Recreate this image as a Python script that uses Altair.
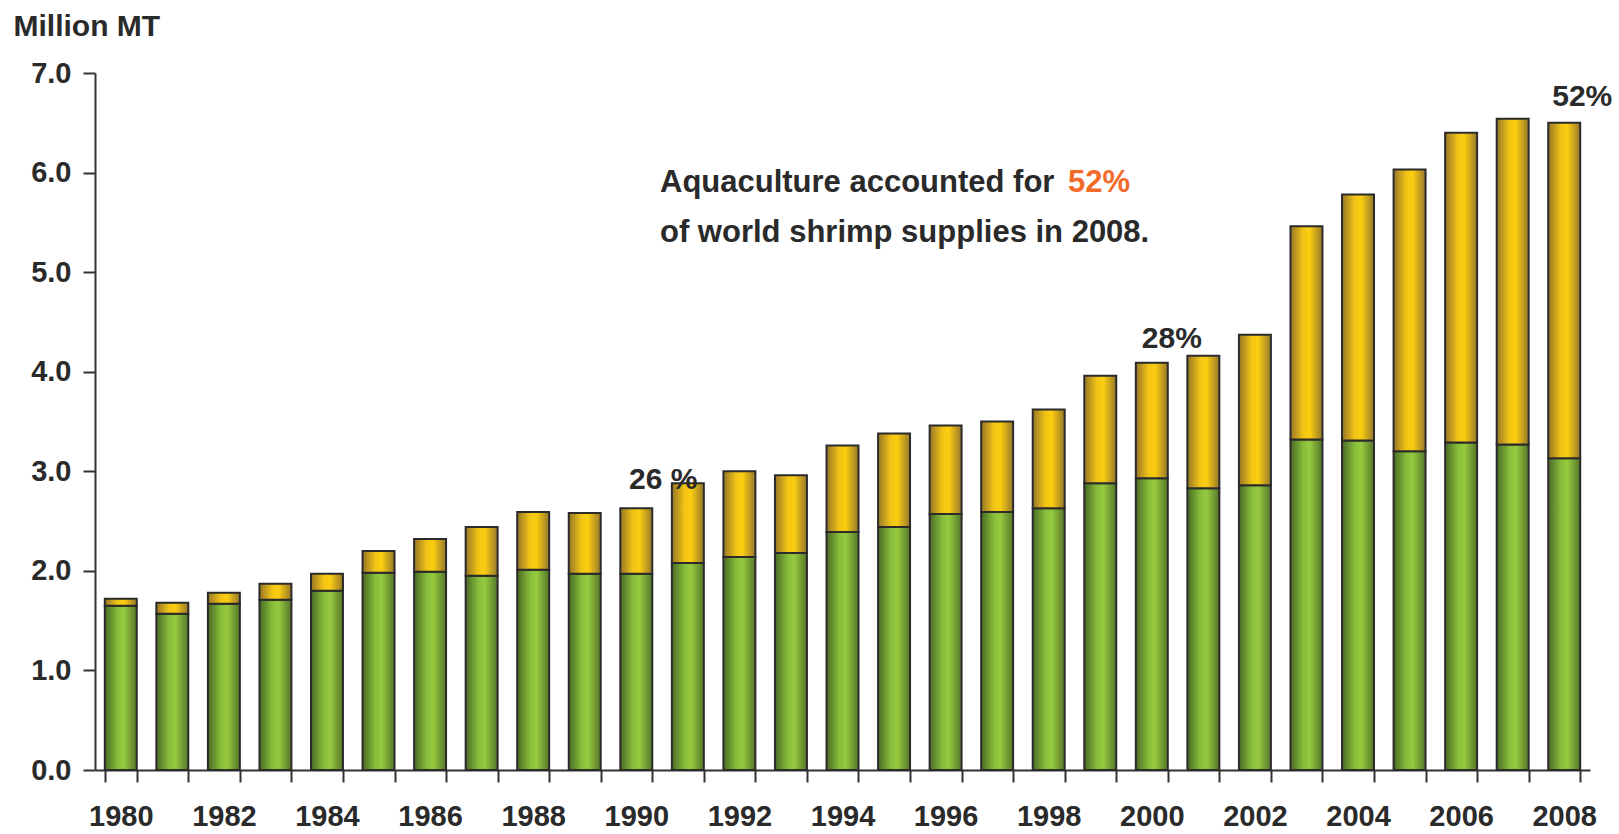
import altair as alt
import pandas as pd

years = list(range(1980, 2009))
# total world shrimp supply (million MT) - top of each bar
total = [1.72, 1.68, 1.78, 1.87, 1.97, 2.20, 2.32, 2.44, 2.59, 2.58,
         2.63, 2.88, 3.00, 2.96, 3.26, 3.38, 3.46, 3.50, 3.62, 3.96,
         4.09, 4.16, 4.37, 5.46, 5.78, 6.03, 6.40, 6.54, 6.50]
# wild capture (green part)
capture = [1.65, 1.57, 1.67, 1.71, 1.80, 1.98, 1.99, 1.95, 2.01, 1.97,
           1.97, 2.08, 2.14, 2.18, 2.39, 2.44, 2.57, 2.59, 2.63, 2.88,
           2.93, 2.83, 2.86, 3.32, 3.31, 3.20, 3.29, 3.27, 3.13]

pct_years = [1990, 2000, 2008]
pct_labels = ["26 %", "28%", "52%"]
pct_dx = [27, 20, 18]
pct_dy = [-19, -15, -17]

note_line1 = "Aquaculture accounted for "
note_pct = "52%"
note_line2 = "of world shrimp supplies in 2008."

df = pd.DataFrame({"year": years, "total": total, "capture": capture})

FONT = "Liberation Sans"
DARK = "#2a2a2a"

green = alt.Gradient(
    gradient="linear", x1=0, x2=1, y1=0, y2=0,
    stops=[alt.GradientStop(color="#4b6a25", offset=0),
           alt.GradientStop(color="#86bd3a", offset=0.4),
           alt.GradientStop(color="#96ca3e", offset=0.6),
           alt.GradientStop(color="#55762b", offset=1)])
yellow = alt.Gradient(
    gradient="linear", x1=0, x2=1, y1=0, y2=0,
    stops=[alt.GradientStop(color="#977628", offset=0),
           alt.GradientStop(color="#f2c515", offset=0.4),
           alt.GradientStop(color="#fbcd10", offset=0.6),
           alt.GradientStop(color="#96782b", offset=1)])

xenc = alt.X(
    "year:O",
    title=None,
    scale=alt.Scale(paddingInner=0.38, paddingOuter=0.19),
    axis=alt.Axis(
        labelExpr="datum.value % 2 == 0 ? datum.label : ''",
        labelAngle=0, tickBand="extent", tickSize=12, tickWidth=2,
        tickColor="#333333", domainColor="#333333", domainWidth=2,
        labelFont=FONT, labelFontSize=29, labelFontWeight="bold",
        labelColor=DARK, labelPadding=20),
)
yscale = alt.Scale(domain=[0, 7], nice=False)

base = alt.Chart(df)

green_bars = base.mark_bar(fill=green, stroke="#2b2b2b", strokeWidth=2).encode(
    x=xenc,
    y=alt.Y("capture:Q", scale=yscale,
            axis=alt.Axis(values=[0, 1, 2, 3, 4, 5, 6, 7], format=".1f",
                          grid=False, tickSize=12, tickWidth=2,
                          tickColor="#333333", domainColor="#333333",
                          domainWidth=2, labelFont=FONT, labelFontSize=29,
                          labelFontWeight="bold", labelColor=DARK,
                          labelPadding=12, title="Million MT", titleAngle=0,
                          titleAlign="left", titleBaseline="alphabetic",
                          titleX=-82, titleY=-38, titleFont=FONT,
                          titleFontSize=30, titleFontWeight="bold",
                          titleColor=DARK)),
)

yellow_bars = base.mark_bar(fill=yellow, stroke="#2b2b2b", strokeWidth=2).encode(
    x=xenc,
    y=alt.Y("capture:Q", scale=yscale),
    y2="total:Q",
)

layers = [green_bars, yellow_bars]

for yr, lab, dx, dy in zip(pct_years, pct_labels, pct_dx, pct_dy):
    t = alt.Chart(df[df.year == yr]).mark_text(
        text=lab, font=FONT, fontSize=30, fontWeight="bold", color=DARK,
        baseline="alphabetic", align="center", dx=dx, dy=dy,
    ).encode(x=xenc, y=alt.Y("total:Q", scale=yscale))
    layers.append(t)

one = pd.DataFrame({"k": [0]})
note1 = alt.Chart(one).mark_text(
    text=note_line1, font=FONT, fontSize=31, fontWeight="bold", color=DARK,
    align="left", baseline="alphabetic",
).encode(x=alt.value(565), y=alt.value(119))
note1b = alt.Chart(one).mark_text(
    text=note_pct, font=FONT, fontSize=31, fontWeight="bold", color="#f26b2a",
    align="left", baseline="alphabetic",
).encode(x=alt.value(973), y=alt.value(119))
note2 = alt.Chart(one).mark_text(
    text=note_line2, font=FONT, fontSize=31, fontWeight="bold", color=DARK,
    align="left", baseline="alphabetic",
).encode(x=alt.value(565), y=alt.value(169))
layers += [note1, note1b, note2]

chart = alt.layer(*layers).properties(
    width=1495, height=697,
    autosize=alt.AutoSizeParams(type="none"),
    padding={"left": 95, "top": 73, "right": 29, "bottom": 64},
    background="white",
).configure_view(stroke=None)

chart.save("out.html", embed_options={"renderer": "svg", "actions": False})
